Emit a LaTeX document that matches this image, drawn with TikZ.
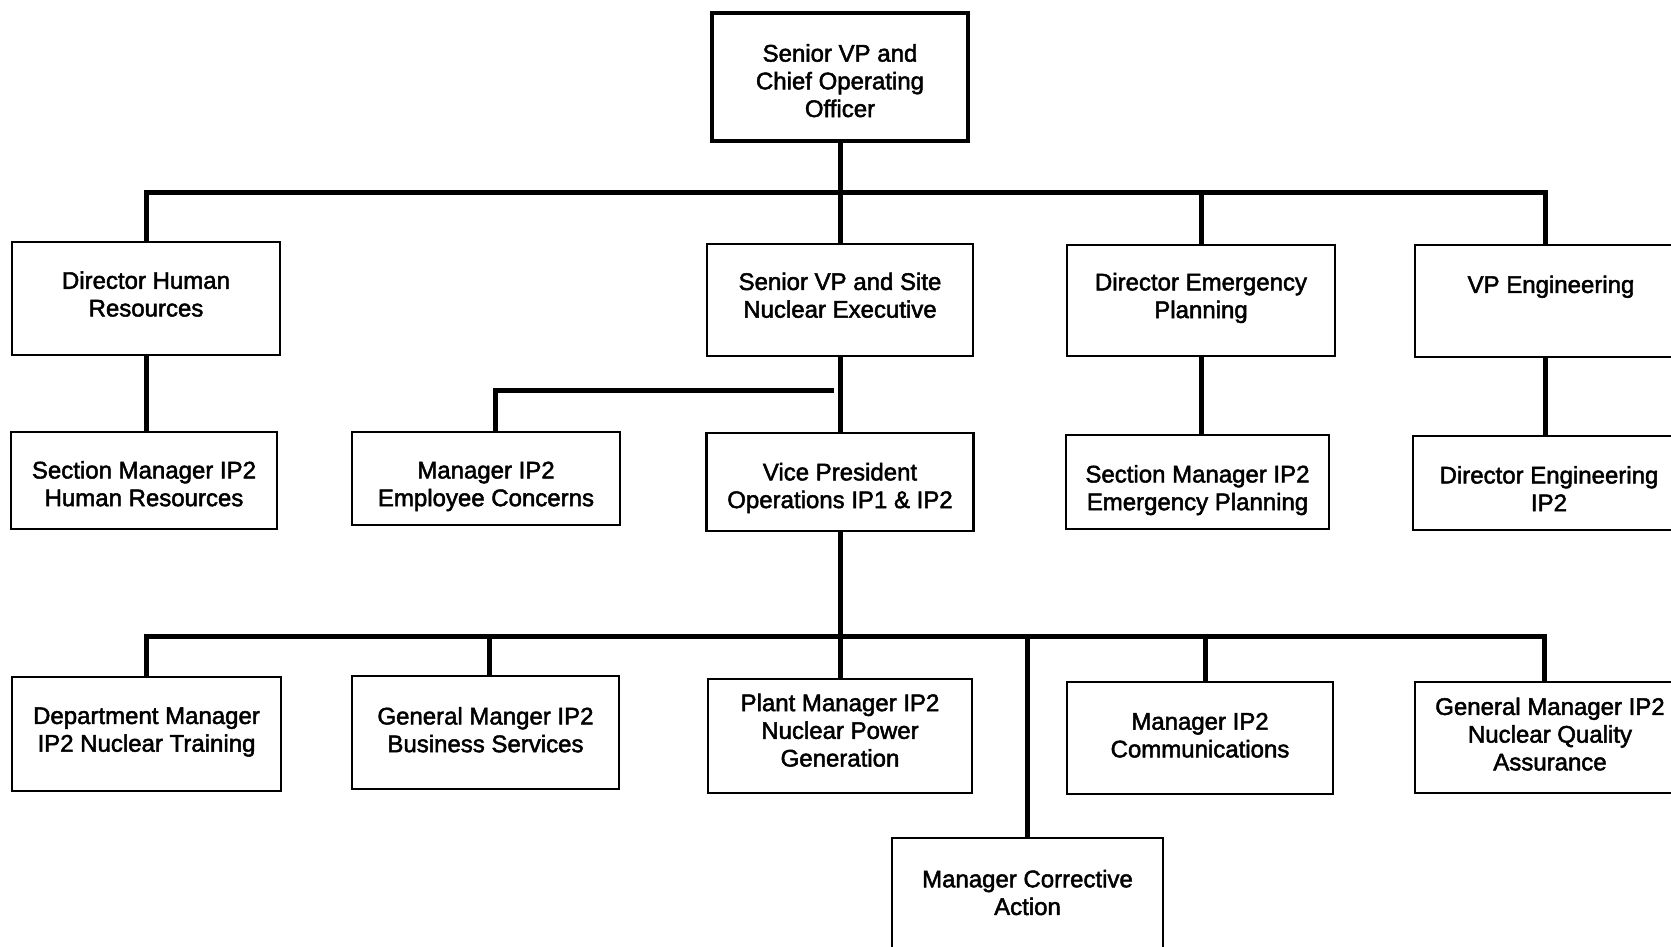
\documentclass[tikz,border=0pt]{standalone}
\usepackage{fontspec}
\setmainfont{Liberation Sans}[FakeBold=2]
\newcommand{\boxtext}[2]{\raisebox{-#1pt}[0pt][0pt]{\begin{tabular}{@{}c@{}}#2\end{tabular}}}
\begin{document}
\begin{tikzpicture}[x=1pt,y=-1pt,
  box/.style={draw=black, line width=2.6pt, inner sep=0pt,
    font=\fontsize{24}{27.7}\selectfont},
  topbox/.style={box, line width=4pt},
  conn/.style={draw=black, line width=5pt}]
\useasboundingbox (0,0) rectangle (1671,947);
\clip (0,0) rectangle (1671,947);
\fill[white] (0,0) rectangle (1671,947);
% boxes
\node[topbox, minimum width=256pt, minimum height=128pt] (coo) at (840,77) {\boxtext{13}{Senior VP and\\Chief Operating\\Officer}};
\node[box, minimum width=268pt, minimum height=113pt] (hr) at (146,298.5) {\boxtext{4.8}{Director Human\\Resources}};
\node[box, minimum width=266pt, minimum height=112pt] (svp) at (840,300) {\boxtext{4.5}{Senior VP and Site\\Nuclear Executive}};
\node[box, minimum width=268pt, minimum height=111pt] (dep) at (1201,300.5) {\boxtext{4.4}{Director Emergency\\Planning}};
\node[box, minimum width=272pt, minimum height=112pt] (vpe) at (1551,301) {\boxtext{-7.4}{VP Engineering}};
\node[box, minimum width=266pt, minimum height=97pt] (smhr) at (144,480.5) {\boxtext{12.5}{Section Manager IP2\\Human Resources}};
\node[box, minimum width=268pt, minimum height=93pt] (mec) at (486,478.5) {\boxtext{14.5}{Manager IP2\\Employee Concerns}};
\node[box, minimum width=267pt, minimum height=98pt] (vpo) at (840,482) {\boxtext{12.9}{Vice President\\Operations IP1 \& IP2}};
\node[box, minimum width=263pt, minimum height=94pt] (smep) at (1197.5,482) {\boxtext{15}{Section Manager IP2\\Emergency Planning}};
\node[box, minimum width=272pt, minimum height=94pt] (deng) at (1549,483) {\boxtext{15}{Director Engineering\\IP2}};
\node[box, minimum width=269pt, minimum height=114pt] (dmt) at (146.5,734) {\boxtext{4.5}{Department Manager\\IP2 Nuclear Training}};
\node[box, minimum width=267pt, minimum height=113pt] (gmbs) at (485.5,732.5) {\boxtext{6.5}{General Manger IP2\\Business Services}};
\node[box, minimum width=264pt, minimum height=114pt] (pm) at (840,736) {\boxtext{3.5}{Plant Manager IP2\\Nuclear Power\\Generation}};
\node[box, minimum width=266pt, minimum height=112pt] (mcomm) at (1200,738) {\boxtext{6.2}{Manager IP2\\Communications}};
\node[box, minimum width=270pt, minimum height=111pt] (gmqa) at (1550,737.5) {\boxtext{5.8}{General Manager IP2\\Nuclear Quality\\Assurance}};
\node[box, minimum width=271pt, minimum height=112pt] (mca) at (1027.5,894) {\boxtext{7.8}{Manager Corrective\\Action}};
% bus coordinates
\coordinate (b1) at (0,192);
\coordinate (b2) at (0,636);
\coordinate (b3) at (0,390);
% top level
\draw[conn] (coo.south) -- (svp.north);
\draw[conn] (hr.north) |- ([xshift=-6pt]vpe.north |- b1) -- ([xshift=-6pt]vpe.north);
\draw[conn] (dep.north) -- (dep.north |- b1);
% second level
\draw[conn] (hr.south) -- (hr.south |- smhr.north);
\draw[conn] (svp.south) -- (vpo.north);
\draw[conn] ([xshift=9pt]mec.north) |- ([xshift=-6pt]svp.south |- b3);
\draw[conn] (dep.south) -- (dep.south |- smep.north);
\draw[conn] ([xshift=-6pt]vpe.south) -- ([xshift=-6pt]vpe.south |- deng.north);
% third level
\draw[conn] (vpo.south) -- (pm.north);
\draw[conn] (dmt.north) |- ([xshift=-6pt]gmqa.north |- b2) -- ([xshift=-6pt]gmqa.north);
\draw[conn] ([xshift=3.5pt]gmbs.north) -- ([xshift=3.5pt]gmbs.north |- b2);
\draw[conn] ([xshift=5pt]mcomm.north) -- ([xshift=5pt]mcomm.north |- b2);
\draw[conn] (mca.north) -- (mca.north |- b2);
\end{tikzpicture}
\end{document}
